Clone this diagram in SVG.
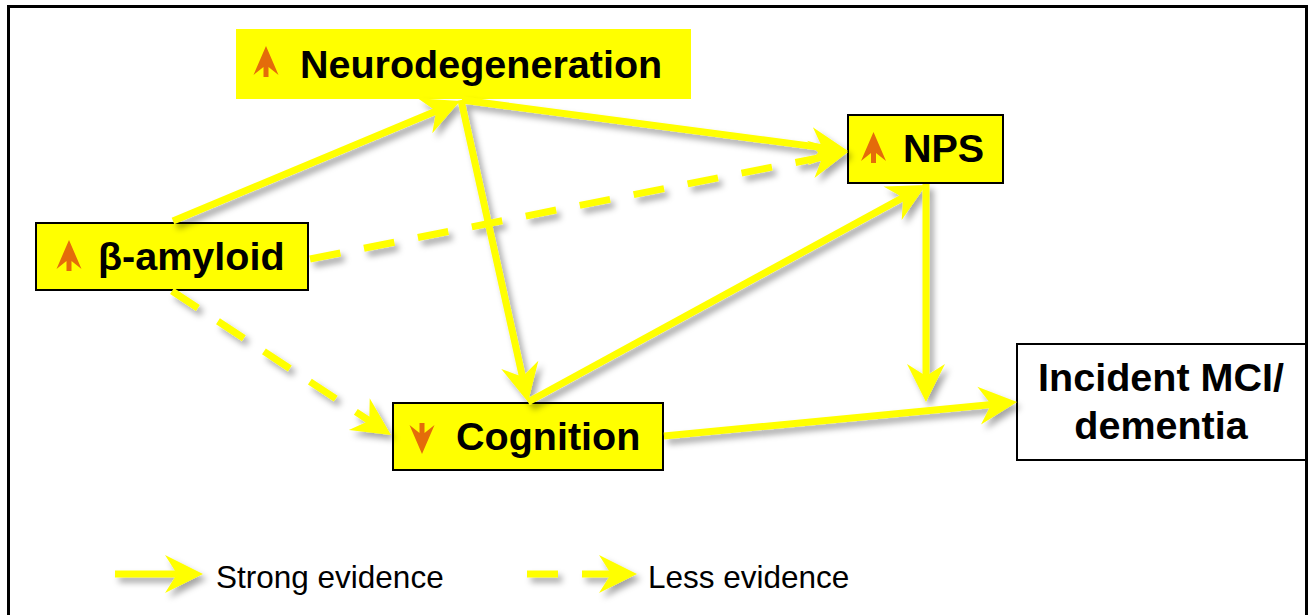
<svg xmlns="http://www.w3.org/2000/svg" width="1309" height="615" viewBox="0 0 1309 615">
  <defs>
    <style>
      .box { stroke: #000; stroke-width: 2; }
      .yellow { fill: #FFFF00; }
      .label { font-family: "Liberation Sans", Arial, sans-serif; font-weight: bold; font-size: 39.5px; fill: #000; }
      .legend { font-family: "Liberation Sans", Arial, sans-serif; font-size: 31.5px; fill: #000; }
      .icon { fill: #E46C0A; }
      .conn { fill: none; stroke: #FFFF00; stroke-width: 7; }
      .dash { stroke-dasharray: 31 24; }
    </style>
    <!-- stealth arrowhead; tip sits 20px ahead of the line end -->
    <marker id="head" markerUnits="userSpaceOnUse" orient="auto" refX="0" refY="0" markerWidth="80" markerHeight="80" overflow="visible">
      <path d="M20,0 L-18,-19 L-6,0 L-18,19 Z" fill="#FFFF00"/>
    </marker>
    <filter id="shadow" filterUnits="userSpaceOnUse" x="0" y="0" width="1309" height="615">
      <feDropShadow dx="4" dy="5" stdDeviation="3" flood-color="#000" flood-opacity="0.35"/>
    </filter>
    <path id="up" d="M0,0 L12.5,29 L2.5,21 L2.5,31 L-2.5,31 L-2.5,21 L-12.5,29 Z"/>
  </defs>

  <rect width="1309" height="615" fill="#fff"/>
  <!-- outer frame -->
  <rect x="8.5" y="6.5" width="1298" height="700" fill="none" stroke="#000" stroke-width="3"/>

  <!-- nodes -->
  <g id="neurodegeneration">
    <rect x="236" y="29" width="455" height="70" class="yellow"/>
    <use href="#up" x="266" y="46" class="icon"/>
    <text x="300" y="78" class="label">Neurodegeneration</text>
  </g>
  <g id="nps">
    <rect x="848" y="115" width="155" height="68" class="yellow box"/>
    <use href="#up" x="873.5" y="132" class="icon"/>
    <text x="903" y="162" class="label">NPS</text>
  </g>
  <g id="amyloid">
    <rect x="36" y="223" width="272" height="67" class="yellow box"/>
    <use href="#up" x="69" y="240" class="icon"/>
    <text x="98" y="270" class="label">β-amyloid</text>
  </g>
  <g id="cognition">
    <rect x="393" y="403" width="270" height="67" class="yellow box"/>
    <use href="#up" transform="translate(422,454) rotate(180)" class="icon"/>
    <text x="456" y="450" class="label">Cognition</text>
  </g>
  <g id="incident">
    <rect x="1017" y="344" width="289" height="116" fill="#fff" class="box"/>
    <text x="1161" y="391" class="label" text-anchor="middle">Incident MCI/</text>
    <text x="1161" y="439" class="label" text-anchor="middle">dementia</text>
  </g>

  <!-- connectors -->
  <g id="connectors" filter="url(#shadow)">
    <line x1="173" y1="221" x2="441.6" y2="108.8" class="conn" marker-end="url(#head)"/>
    <line x1="462" y1="100" x2="828.2" y2="148.4" class="conn" marker-end="url(#head)"/>
    <line x1="461" y1="100" x2="523.7" y2="382.5" class="conn" marker-end="url(#head)"/>
    <line x1="310" y1="259" x2="828.4" y2="155.9" class="conn dash" marker-end="url(#head)"/>
    <line x1="172" y1="291" x2="374.3" y2="424" class="conn dash" marker-end="url(#head)"/>
    <line x1="528" y1="402" x2="908.4" y2="194.6" class="conn" marker-end="url(#head)"/>
    <line x1="926" y1="184" x2="926" y2="382" class="conn" marker-end="url(#head)"/>
    <line x1="664" y1="436" x2="997.1" y2="403.9" class="conn" marker-end="url(#head)"/>
  </g>

  <!-- legend -->
  <g id="legend">
    <g filter="url(#shadow)">
      <line x1="115" y1="574" x2="183" y2="574" class="conn" marker-end="url(#head)"/>
      <line x1="527" y1="574" x2="617" y2="574" class="conn dash" marker-end="url(#head)"/>
    </g>
    <text x="216" y="588" class="legend">Strong evidence</text>
    <text x="648" y="588" class="legend">Less evidence</text>
  </g>
</svg>
